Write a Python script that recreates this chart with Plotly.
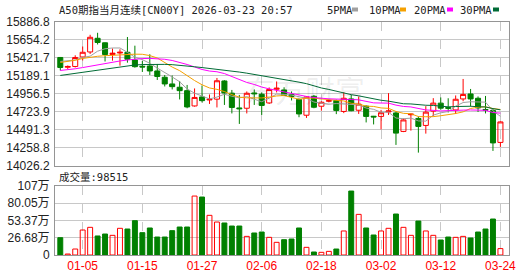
import plotly.graph_objects as go

W, H = 530, 276

dates = ["12-30", "12-31", "01-02", "01-05", "01-06", "01-07", "01-08", "01-09", "01-12", "01-13",
         "01-14", "01-15", "01-16", "01-19", "01-20", "01-21", "01-22", "01-23", "01-26", "01-27",
         "01-28", "01-29", "01-30", "02-02", "02-03", "02-04", "02-05", "02-06", "02-09", "02-10",
         "02-11", "02-12", "02-13", "02-16", "02-17", "02-18", "02-19", "02-20", "02-23", "02-24",
         "02-25", "02-26", "02-27", "03-02", "03-03", "03-04", "03-05", "03-06", "03-09", "03-10",
         "03-11", "03-12", "03-13", "03-16", "03-17", "03-18", "03-19", "03-20", "03-23", "03-24"]

open_ = [15425.5, 15299.2, 15309.6, 15432.0, 15496.4, 15672.9, 15614.9, 15464.2, 15483.5, 15492.5,
         15393.3, 15312.1, 15316.0, 15251.6, 15170.4, 15084.1, 15041.5, 14997.7, 14800.6, 14916.6,
         14877.9, 14888.2, 15122.7, 14965.5, 14774.8, 14771.0, 14968.1, 14951.3, 14839.2, 15015.8,
         15006.8, 14948.8, 14884.3, 14680.8, 14925.6, 14796.7, 14861.1, 14871.5, 14729.7, 14890.8,
         14745.2, 14798.0, 14667.9, 14665.3, 14723.3, 14710.4, 14472.0, 14687.2, 14639.5, 14549.3,
         14733.6, 14836.7, 14780.0, 14749.1, 14890.8, 14955.2, 14899.8, 14755.5, 14742.6, 14330.3]

high = [15432.0, 15322.4, 15453.9, 15567.2, 15718.0, 15743.8, 15618.8, 15541.5, 15531.2, 15689.7,
        15577.6, 15380.4, 15466.7, 15341.8, 15200.0, 15193.6, 15122.7, 15071.2, 15026.1, 15064.7,
        14948.8, 15161.4, 15133.0, 15006.8, 14942.3, 14987.4, 15013.2, 14974.5, 15039.0, 15116.3,
        15041.5, 14987.4, 14897.2, 14925.6, 14942.3, 14861.1, 14877.9, 14881.8, 14977.1, 14942.3,
        14923.0, 14807.0, 14671.7, 14749.1, 14965.5, 14729.7, 14639.5, 14706.5, 14665.3, 14798.0,
        14901.1, 14910.1, 14899.8, 14935.9, 15148.5, 15019.6, 14923.0, 14929.4, 14761.9, 14603.4]

low = [15258.0, 15277.5, 15296.7, 15386.9, 15470.6, 15593.0, 15374.0, 15384.3, 15319.9, 15358.5,
       15294.1, 15238.7, 15200.0, 15135.6, 15051.8, 15013.2, 14884.3, 14771.0, 14791.6, 14845.7,
       14826.4, 14781.3, 14813.5, 14704.0, 14568.7, 14704.0, 14813.5, 14684.6, 14826.4, 14974.5,
       14929.4, 14871.5, 14655.0, 14646.0, 14771.0, 14738.7, 14848.3, 14694.9, 14707.8, 14732.3,
       14697.5, 14588.0, 14562.2, 14497.8, 14684.6, 14298.1, 14463.0, 14482.3, 14198.9, 14443.7,
       14665.3, 14751.6, 14716.8, 14697.5, 14861.1, 14794.1, 14723.3, 14704.0, 14220.8, 14272.3]

close = [15296.7, 15309.6, 15425.5, 15492.5, 15685.8, 15618.8, 15464.2, 15480.9, 15492.5, 15402.3,
         15307.0, 15303.1, 15251.6, 15180.7, 15084.1, 15049.3, 14997.7, 14787.7, 14910.1, 14868.9,
         14886.9, 15125.3, 14968.1, 14781.3, 14764.5, 14964.2, 14957.8, 14807.0, 15013.2, 15028.7,
         14935.9, 14923.0, 14697.5, 14916.6, 14783.8, 14848.3, 14868.9, 14742.6, 14899.8, 14738.7,
         14823.8, 14665.3, 14658.9, 14713.0, 14736.2, 14450.1, 14620.2, 14694.9, 14536.4, 14720.7,
         14836.7, 14772.2, 14771.0, 14886.9, 14948.8, 14890.8, 14774.8, 14746.5, 14323.8, 14594.4]

volume = [267000, 15000, 92000, 385000, 426000, 293000, 323000, 303000, 411000, 400000,
          529000, 344000, 416000, 277000, 277000, 375000, 431000, 431000, 908000, 893000,
          611000, 508000, 493000, 446000, 446000, 287000, 339000, 354000, 272000, 195000,
          236000, 246000, 416000, 118000, 46000, 41000, 56000, 92000, 370000, 985000,
          626000, 416000, 308000, 370000, 411000, 631000, 426000, 303000, 523000, 370000,
          303000, 231000, 277000, 272000, 287000, 262000, 354000, 400000, 554000, 98515]

ma5 = [15374.0, 15380.4, 15393.3, 15425.5, 15442.3, 15506.7, 15537.6, 15547.9, 15547.9, 15491.2,
       15429.4, 15397.2, 15350.8, 15288.9, 15225.8, 15174.3, 15112.4, 15019.6, 14965.5, 14923.0,
       14890.8, 14915.3, 14951.3, 14925.6, 14905.0, 14920.4, 14886.9, 14854.7, 14901.1, 14953.9,
       14948.8, 14941.0, 14919.1, 14899.8, 14850.8, 14834.1, 14822.5, 14831.5, 14828.9, 14819.9,
       14814.8, 14773.5, 14756.8, 14719.4, 14719.4, 14644.7, 14635.7, 14643.4, 14607.3, 14604.7,
       14682.0, 14711.7, 14728.4, 14798.0, 14844.4, 14854.7, 14854.7, 14849.6, 14737.5, 14666.6]

ma10 = [15361.1, 15374.0, 15389.4, 15412.6, 15428.1, 15441.0, 15448.7, 15455.1, 15461.6, 15466.7,
        15468.0, 15466.7, 15450.0, 15419.1, 15358.5, 15301.8, 15255.4, 15185.9, 15127.9, 15073.8,
        15032.5, 15014.5, 14986.1, 14946.2, 14914.0, 14905.0, 14901.1, 14903.7, 14914.0, 14929.4,
        14934.6, 14914.0, 14886.9, 14901.1, 14902.4, 14890.8, 14881.8, 14875.3, 14865.0, 14835.4,
        14823.8, 14798.0, 14794.1, 14774.8, 14769.7, 14729.7, 14705.2, 14700.1, 14664.0, 14661.4,
        14662.7, 14674.3, 14685.9, 14702.7, 14724.6, 14768.4, 14783.8, 14789.0, 14767.1, 14755.5]

ma20 = [15258.0, 15267.0, 15279.9, 15295.4, 15313.4, 15331.5, 15348.2, 15365.0, 15380.4, 15393.3,
        15403.6, 15411.3, 15413.9, 15411.3, 15402.3, 15386.9, 15365.0, 15335.3, 15303.1, 15270.9,
        15250.3, 15241.3, 15218.1, 15182.0, 15135.6, 15103.4, 15077.6, 15044.1, 15020.9, 15001.6,
        14983.6, 14964.2, 14937.2, 14923.0, 14908.8, 14898.5, 14892.1, 14889.5, 14889.5, 14883.1,
        14879.2, 14856.0, 14840.5, 14838.0, 14836.7, 14810.9, 14794.1, 14787.7, 14764.5, 14749.0,
        14743.9, 14736.2, 14740.0, 14738.7, 14746.5, 14749.0, 14743.9, 14743.9, 14715.5, 14707.8]

ma30 = [15193.6, 15207.8, 15221.9, 15236.1, 15250.3, 15264.5, 15278.6, 15292.8, 15305.7, 15322.4,
        15328.9, 15334.0, 15336.6, 15337.9, 15336.6, 15332.7, 15326.3, 15316.0, 15305.7, 15295.4,
        15285.1, 15274.8, 15263.2, 15250.3, 15237.4, 15223.2, 15207.8, 15189.7, 15173.0, 15156.2,
        15144.6, 15131.7, 15107.3, 15087.9, 15058.3, 15032.5, 15013.2, 14988.7, 14968.1, 14946.2,
        14930.7, 14908.8, 14889.5, 14874.0, 14862.4, 14841.8, 14828.9, 14826.4, 14813.5, 14809.6,
        14807.0, 14795.4, 14789.0, 14792.9, 14799.3, 14796.7, 14790.3, 14787.7, 14765.8, 14750.3]

price_ticks = [14026.2, 14258.8, 14491.3, 14723.9, 14956.5, 15189.1, 15421.7, 15654.2, 15886.8]
vol_ticks = [0, 266850, 533700, 800550, 1067400]
vol_tick_text = ["0", "26.68万", "53.37万", "80.05万", "107万"]
date_ticks = ["01-05", "01-15", "01-27", "02-06", "02-18", "03-02", "03-12", "03-24"]

title_text = "A50期指当月连续[CN00Y] 2026-03-23 20:57"
vol_label = "成交量:98515"
ma_names = ["5PMA", "10PMA", "20PMA", "30PMA"]
ma_colors = ["#a0a0a0", "#f5a000", "#ff00ff", "#006b36"]

RED = "#ff0000"
GREEN = "#008000"
GRID = "#c8c8c8"
FRAME = "#959595"
NUM_FONT = "Liberation Sans, Arial, sans-serif"
CJK_FONT = "DejaVu Sans Mono, Noto Sans CJK SC, monospace"

fig = go.Figure()

fig.add_trace(go.Candlestick(
    x=dates, open=open_, high=high, low=low, close=close,
    increasing=dict(line=dict(color=RED, width=1), fillcolor="rgba(255,255,255,0)"),
    decreasing=dict(line=dict(color=GREEN, width=1), fillcolor=GREEN),
    whiskerwidth=0, showlegend=False, hoverinfo="skip",
    xaxis="x", yaxis="y",
))

for name, vals, col in zip(ma_names, [ma5, ma10, ma20, ma30], ma_colors):
    fig.add_trace(go.Scatter(x=dates, y=vals, mode="lines", name=name,
                             line=dict(color=col, width=1), showlegend=False,
                             hoverinfo="skip", xaxis="x", yaxis="y"))

up = [c >= o for o, c in zip(open_, close)]
fig.add_trace(go.Bar(
    x=dates, y=volume, width=0.66,
    marker=dict(color=["rgba(255,255,255,0)" if u else GREEN for u in up],
                line=dict(color=[RED if u else GREEN for u in up], width=1)),
    showlegend=False, hoverinfo="skip", xaxis="x2", yaxis="y2",
))

main_dom = [1 - 166.0 / H, 1 - 21.7 / H]
vol_dom = [1 - 255.0 / H, 1 - 185.7 / H]
xr = [-0.71, 60.15]

common_x = dict(type="category", range=xr, tickmode="array", tickvals=date_ticks,
                showgrid=True, gridcolor=GRID, griddash="dash", gridwidth=1,
                showline=True, linecolor=FRAME, linewidth=1, mirror=True,
                ticks="", zeroline=False, automargin=False, fixedrange=True)
common_y = dict(showgrid=True, gridcolor=GRID, gridwidth=1, showline=True,
                linecolor=FRAME, linewidth=1, mirror=True, ticks="", zeroline=False,
                automargin=False, fixedrange=True,
                tickfont=dict(family=NUM_FONT, size=12, color="#222222"),
                ticklabelstandoff=2)

fig.update_layout(
    width=W, height=H,
    margin=dict(l=55, r=21, t=0, b=0),
    paper_bgcolor="white", plot_bgcolor="white",
    template="none",
    showlegend=False,
    boxgap=0.25, boxgroupgap=0.1,
    bargap=0,
    xaxis=dict(common_x, domain=[0, 1], anchor="y", showticklabels=False,
               rangeslider=dict(visible=False)),
    yaxis=dict(common_y, domain=main_dom, anchor="x",
               range=[price_ticks[0], price_ticks[-1]],
               tickmode="array", tickvals=price_ticks,
               ticktext=[f"{v:.1f}" for v in price_ticks]),
    xaxis2=dict(common_x, domain=[0, 1], anchor="y2",
                showticklabels=True,
                tickfont=dict(family=NUM_FONT, size=12, color=RED)),
    yaxis2=dict(common_y, domain=vol_dom, anchor="x2",
                range=[0, vol_ticks[-1]], tickmode="array",
                tickvals=vol_ticks, ticktext=vol_tick_text,
                tickfont=dict(family="Liberation Sans, Noto Sans CJK SC, sans-serif",
                              size=12, color="#222222")),
)


def px_x(px):
    return (px - 55) / (W - 55 - 21)


def px_y(py):
    return 1 - py / H


annotations = [
    dict(text=title_text, x=px_x(57), y=px_y(9.5), xref="paper", yref="paper",
         xanchor="left", yanchor="middle", showarrow=False,
         font=dict(family=CJK_FONT, size=10.5, color="#222222")),
    dict(text=vol_label, x=px_x(57), y=px_y(176.5), xref="paper", yref="paper",
         xanchor="left", yanchor="middle", showarrow=False,
         font=dict(family=CJK_FONT, size=10.5, color="#222222")),
    dict(text="东方财富", x=px_x(305), y=px_y(89), xref="paper", yref="paper",
         xanchor="center", yanchor="middle", showarrow=False,
         font=dict(family="Noto Sans CJK SC", size=30, color="rgba(0,0,0,0.08)")),
]

legend_text_x = [325, 367, 412, 458]
legend_sq_x = [352, 400, 447, 493]
shapes = []
for name, col, tx, sx in zip(ma_names, ma_colors, legend_text_x, legend_sq_x):
    annotations.append(dict(text=name, x=px_x(tx), y=px_y(9.5), xref="paper", yref="paper",
                            xanchor="left", yanchor="middle", showarrow=False,
                            font=dict(family=CJK_FONT, size=10.5, color="#222222")))
    shapes.append(dict(type="rect", xref="paper", yref="paper",
                       x0=px_x(sx), x1=px_x(sx + 6), y0=px_y(11.5), y1=px_y(7.5),
                       fillcolor=col, line=dict(width=0)))

fig.update_layout(annotations=annotations, shapes=shapes)

fig.write_html("out.html", config={"displayModeBar": False, "staticPlot": True})
